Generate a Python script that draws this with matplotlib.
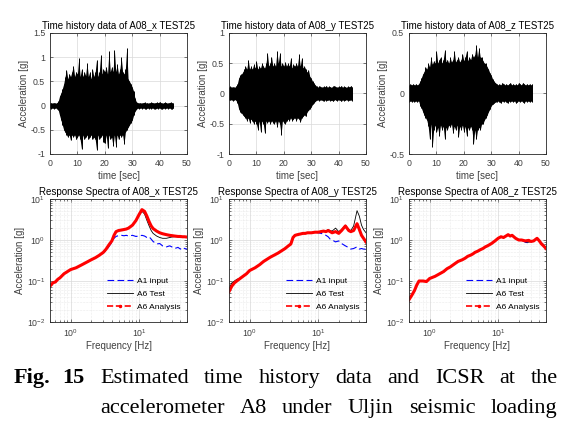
import matplotlib
matplotlib.use("Agg")
import matplotlib.pyplot as plt
import numpy as np
from matplotlib.lines import Line2D
from matplotlib.ticker import FormatStrFormatter

plt.rcParams["font.family"] = ["Liberation Sans", "DejaVu Sans"]
plt.rcParams["mathtext.fontset"] = "custom"
plt.rcParams["mathtext.rm"] = "Liberation Sans"

# ---- time histories: min / max of the trace in each 0.5 s bin, 0..45 s ----
TIME_STEP = 0.5
TIME_END = 45.0

X_UP = [.05, .06, .05, .06, .05, .06, .09, .2, .26, .35, .45, .6, .74, .55, .66, .6,
        .7, .82, .6, .7, .65, .98, .6, .75, .6, .7, .62, .88, .6, .7, .55, .75,
        .6, .7, .95, .6, .7, 1.05, .65, .75, .7, .8, .65, 1.12, .7, .8, .7, 1.15,
        .7, .85, .65, .75, 1.0, .7, .65, .75, 1.2, .55, .5, .45, .38, .3, .15, .08,
        .06, .05, .06, .05, .06, .07, .05, .06, .05, .06, .07, .06, .05, .06, .07, .06,
        .08, .06, .05, .06, .07, .06, .05, .06, .07, .06, .05]
X_LO = [-.05, -.06, -.05, -.06, -.05, -.06, -.09, -.2, -.3, -.4, -.5, -.55, -.6, -.65, -.6, -.72,
        -.6, -.65, -.6, -.7, -.65, -.6, -.7, -.9, -.6, -.7, -.65, -.6, -.7, -.65, -.6, -.7,
        -.65, -.7, -.92, -.6, -.7, -.65, -.6, -.75, -.78, -.6, -.88, -.6, -.7, -.65, -.84, -.6,
        -.85, -.6, -.7, -.6, -.65, -.6, -.8, -.55, -.5, -.45, -.4, -.35, -.3, -.2, -.12, -.08,
        -.05, -.06, -.05, -.06, -.05, -.06, -.07, -.05, -.06, -.05, -.06, -.05, -.06, -.07, -.05, -.06,
        -.05, -.06, -.07, -.05, -.06, -.05, -.06, -.05, -.06, -.07, -.05]

Y_UP = [.1, .12, .1, .11, .1, .12, .15, .25, .3, .32, .35, .4, .45, .4, .56, .4,
        .45, .4, .48, .42, .53, .4, .45, .42, .5, .45, .42, .5, .67, .45, .5, .61,
        .45, .5, .45, .7, .5, .67, .45, .5, .45, .52, .45, .5, .45, .59, .42, .48,
        .45, .5, .45, .65, .45, .59, .42, .45, .4, .35, .39, .28, .25, .2, .17, .14,
        .12, .1, .13, .11, .1, .12, .11, .13, .1, .12, .11, .1, .12, .13, .11, .1,
        .12, .11, .13, .1, .12, .11, .1, .12, .11, .13, .1]
Y_LO = [-.1, -.11, -.1, -.12, -.1, -.11, -.15, -.25, -.3, -.32, -.35, -.38, -.4, -.45, -.4, -.48,
        -.42, -.45, -.5, -.45, -.5, -.6, -.45, -.63, -.45, -.5, -.66, -.45, -.48, -.45, -.5, -.45,
        -.48, -.5, -.45, -.55, -.45, -.5, -.68, -.45, -.48, -.5, -.45, -.42, -.45, -.4, -.45, -.42,
        -.4, -.45, -.4, -.42, -.47, -.4, -.38, -.35, -.38, -.3, -.28, -.25, -.22, -.18, -.15, -.13,
        -.11, -.1, -.12, -.1, -.11, -.13, -.1, -.12, -.11, -.1, -.12, -.11, -.13, -.1, -.11, -.12,
        -.1, -.11, -.13, -.1, -.12, -.11, -.1, -.12, -.11, -.1, -.12]

Z_UP = [.07, .08, .07, .08, .07, .08, .07, .08, .1, .13, .16, .18, .22, .2, .25, .22,
        .3, .24, .27, .25, .35, .25, .28, .3, .25, .28, .36, .26, .28, .25, .3, .26,
        .28, .35, .26, .28, .3, .26, .28, .33, .27, .3, .35, .27, .3, .28, .33, .3,
        .32, .4, .3, .38, .3, .3, .27, .25, .25, .22, .2, .17, .15, .12, .1, .09,
        .08, .07, .08, .07, .09, .08, .07, .08, .07, .08, .09, .07, .08, .07, .08, .07,
        .09, .08, .07, .09, .08, .07, .08, .07, .08, .07, .08]
Z_LO = [-.07, -.06, -.07, -.06, -.07, -.06, -.07, -.06, -.1, -.12, -.15, -.18, -.2, -.22, -.27, -.38,
        -.25, -.44, -.3, -.26, -.32, -.28, -.35, -.26, -.3, -.27, -.38, -.28, -.3, -.26, -.28, -.25,
        -.33, -.27, -.3, -.26, -.36, -.27, -.3, -.26, -.32, -.27, -.35, -.28, -.3, -.27, -.3, -.42,
        -.3, -.38, -.3, -.28, -.3, -.25, -.25, -.22, -.2, -.18, -.15, -.13, -.1, -.09, -.08, -.07,
        -.07, -.06, -.07, -.08, -.06, -.07, -.06, -.07, -.08, -.06, -.07, -.06, -.07, -.06, -.08, -.07,
        -.06, -.07, -.06, -.07, -.08, -.06, -.07, -.06, -.07, -.06, -.07]

# ---- response spectra [g] ----
FREQ = [0.5, 0.55, 0.6, 0.65, 0.7, 0.8, 0.9, 1.0, 1.2, 1.4, 1.6, 1.8, 2.0, 2.3, 2.6, 3.0,
        3.3, 3.6, 4.0, 4.3, 4.6, 5.0, 5.5, 6.0, 6.5, 7.0, 8.0, 9.0, 10, 11, 12, 13,
        14, 15, 16, 18, 20, 22, 25, 28, 30, 33, 37, 40, 43, 46, 50]

X_INPUT = [0.075, 0.09, 0.095, 0.11, 0.12, 0.15, 0.17, 0.19, 0.21, 0.24, 0.27, 0.3, 0.33, 0.37, 0.42, 0.48,
           0.56, 0.68, 0.88, 1.1, 1.22, 1.28, 1.3, 1.27, 1.3, 1.25, 1.3, 1.22, 1.25, 1.3, 1.25, 1.15,
           1.2, 1.05, 0.92, 0.8, 0.82, 0.72, 0.68, 0.72, 0.68, 0.62, 0.66, 0.6, 0.66, 0.62, 0.6]
X_TEST = [0.075, 0.09, 0.095, 0.11, 0.12, 0.15, 0.17, 0.19, 0.21, 0.24, 0.27, 0.3, 0.33, 0.37, 0.42, 0.5,
          0.6, 0.75, 0.95, 1.3, 1.6, 1.7, 1.75, 1.8, 1.85, 1.95, 2.3, 2.9, 4.0, 5.0, 4.3, 3.0,
          2.2, 1.7, 1.45, 1.25, 1.15, 1.1, 1.1, 1.15, 1.18, 1.2, 1.2, 1.22, 1.22, 1.2, 1.2]
X_ANALYSIS = [0.075, 0.09, 0.095, 0.11, 0.12, 0.15, 0.17, 0.19, 0.21, 0.24, 0.27, 0.3, 0.33, 0.37, 0.42, 0.5,
              0.6, 0.75, 0.95, 1.3, 1.6, 1.7, 1.75, 1.8, 1.85, 1.95, 2.3, 3.0, 4.2, 5.5, 5.0, 3.8,
              2.8, 2.2, 1.9, 1.65, 1.5, 1.42, 1.35, 1.3, 1.28, 1.25, 1.22, 1.22, 1.2, 1.2, 1.18]

Y_INPUT = [0.055, 0.075, 0.09, 0.1, 0.11, 0.13, 0.15, 0.18, 0.21, 0.25, 0.3, 0.34, 0.38, 0.43, 0.48, 0.56,
           0.62, 0.7, 0.8, 1.15, 1.3, 1.35, 1.4, 1.45, 1.45, 1.5, 1.5, 1.55, 1.5, 1.45, 1.4, 1.3,
           1.2, 1.05, 1.0, 0.9, 0.95, 0.82, 0.72, 0.65, 0.6, 0.62, 0.68, 0.6, 0.62, 0.6, 0.6]
Y_TEST = [0.065, 0.09, 0.1, 0.11, 0.115, 0.13, 0.15, 0.18, 0.21, 0.25, 0.3, 0.34, 0.38, 0.43, 0.48, 0.56,
          0.62, 0.7, 0.8, 1.15, 1.3, 1.35, 1.4, 1.45, 1.45, 1.5, 1.5, 1.55, 1.55, 1.65, 1.7, 1.65,
          1.8, 1.7, 1.65, 1.95, 1.6, 1.8, 2.3, 1.8, 1.7, 2.2, 5.2, 3.8, 2.3, 1.8, 1.5]
Y_ANALYSIS = [0.055, 0.075, 0.09, 0.1, 0.11, 0.13, 0.15, 0.18, 0.21, 0.25, 0.3, 0.34, 0.38, 0.43, 0.48, 0.56,
              0.62, 0.7, 0.8, 1.15, 1.3, 1.35, 1.4, 1.45, 1.45, 1.5, 1.5, 1.55, 1.55, 1.6, 1.65, 1.6,
              1.7, 1.6, 1.5, 1.6, 1.45, 1.7, 2.2, 1.7, 1.6, 1.7, 2.5, 1.8, 1.3, 1.1, 0.9]

Z_INPUT = [0.035, 0.045, 0.058, 0.08, 0.1, 0.1, 0.097, 0.115, 0.13, 0.15, 0.17, 0.2, 0.22, 0.26, 0.3, 0.33,
           0.36, 0.4, 0.43, 0.46, 0.5, 0.53, 0.58, 0.62, 0.68, 0.72, 0.82, 0.95, 1.1, 1.2, 1.15, 1.25,
           1.35, 1.25, 1.3, 1.1, 1.0, 1.0, 0.88, 0.85, 0.88, 0.95, 1.1, 0.95, 0.8, 0.72, 0.62]
Z_TEST = [0.035, 0.045, 0.058, 0.08, 0.1, 0.1, 0.097, 0.115, 0.13, 0.15, 0.17, 0.2, 0.22, 0.26, 0.3, 0.33,
          0.36, 0.4, 0.43, 0.46, 0.5, 0.53, 0.58, 0.62, 0.68, 0.72, 0.82, 0.95, 1.1, 1.2, 1.15, 1.25,
          1.35, 1.25, 1.3, 1.1, 1.0, 1.0, 0.9, 0.88, 0.92, 0.95, 1.1, 0.95, 0.85, 0.78, 0.65]
Z_ANALYSIS = [0.035, 0.045, 0.058, 0.08, 0.1, 0.1, 0.097, 0.115, 0.13, 0.15, 0.17, 0.2, 0.22, 0.26, 0.3, 0.33,
              0.36, 0.4, 0.43, 0.46, 0.5, 0.53, 0.58, 0.62, 0.68, 0.72, 0.82, 0.95, 1.1, 1.2, 1.15, 1.25,
              1.35, 1.25, 1.3, 1.1, 1.0, 1.0, 0.95, 0.98, 0.92, 0.95, 1.1, 0.95, 0.8, 0.72, 0.62]

AXES = ["x", "y", "z"]
HISTORY = {"x": (X_UP, X_LO), "y": (Y_UP, Y_LO), "z": (Z_UP, Z_LO)}
HIST_YLIM = {"x": (-1, 1.5), "y": (-1, 1), "z": (-0.5, 0.5)}
HIST_YTICKS = {"x": [-1, -0.5, 0, 0.5, 1, 1.5], "y": [-1, -0.5, 0, 0.5, 1], "z": [-0.5, 0, 0.5]}
SPECTRA = {
    "x": (X_INPUT, X_TEST, X_ANALYSIS),
    "y": (Y_INPUT, Y_TEST, Y_ANALYSIS),
    "z": (Z_INPUT, Z_TEST, Z_ANALYSIS),
}

W_PX, H_PX = 574, 440
LEFTS = [50, 229, 409]
AX_W = 137
GRAY = "0.25"


def px_rect(left, top, width, height):
    return [left / W_PX, 1 - (top + height) / H_PX, width / W_PX, height / H_PX]


def style_axes(ax):
    ax.tick_params(direction="in", which="both", top=True, right=True,
                   labelsize=6.3, colors=GRAY, length=2.5, width=0.5)
    ax.tick_params(which="minor", length=1.5)
    for s in ax.spines.values():
        s.set_color("0.15")
        s.set_linewidth(0.6)


fig = plt.figure(figsize=(W_PX / 100, H_PX / 100), dpi=100)
t = np.arange(0, TIME_END + TIME_STEP / 2, TIME_STEP)

for i, key in enumerate(AXES):
    # time history: solid body plus individual spikes
    ax = fig.add_axes(px_rect(LEFTS[i], 33, AX_W, 121))
    up, lo = HISTORY[key]
    ax.fill_between(t, lo, up, color="k", linewidth=0)
    ax.vlines(t, lo, up, color="k", linewidth=0.7)
    ax.set_xlim(0, 50)
    ax.set_ylim(*HIST_YLIM[key])
    ax.set_xticks([0, 10, 20, 30, 40, 50])
    ax.set_yticks(HIST_YTICKS[key])
    ax.yaxis.set_major_formatter(FormatStrFormatter("%g"))
    ax.grid(True, color="0.85", linewidth=0.5)
    ax.set_axisbelow(True)
    style_axes(ax)
    ax.set_title(f"Time history data of A08_{key} TEST25", fontsize=7, pad=3)
    ax.set_xlabel("time [sec]", fontsize=7, color=GRAY, labelpad=2)
    ax.set_ylabel("Acceleration [g]", fontsize=7, color=GRAY, labelpad=1)

    # response spectra
    ax = fig.add_axes(px_rect(LEFTS[i], 199, AX_W, 123))
    inp, test, ana = SPECTRA[key]
    ax.loglog(FREQ, inp, color="blue", linestyle=(0, (6, 3)), linewidth=0.8)
    ax.loglog(FREQ, test, color="k", linewidth=0.6)
    ax.loglog(FREQ, ana, color="red", linewidth=2.2)
    ax.set_xlim(0.5, 50)
    ax.set_ylim(1e-2, 1e1)
    ax.set_yticks([1e-2, 1e-1, 1e0, 1e1])
    ax.grid(True, which="major", color="0.85", linewidth=0.5)
    ax.grid(True, which="minor", color="0.85", linewidth=0.4, linestyle=":")
    ax.set_axisbelow(True)
    style_axes(ax)
    ax.set_title(f"Response Spectra of A08_{key} TEST25", fontsize=7, pad=3)
    ax.set_xlabel("Frequency [Hz]", fontsize=7, color=GRAY, labelpad=2)
    ax.set_ylabel("Acceleration [g]", fontsize=7, color=GRAY, labelpad=1)
    handles = [
        Line2D([], [], color="blue", linestyle=(0, (6, 3)), linewidth=0.8),
        Line2D([], [], color="k", linewidth=0.6),
        Line2D([], [], color="red", linestyle="--", linewidth=1.2, marker=".", markersize=3),
    ]
    ax.legend(handles, ["A1 input", "A6 Test", "A6 Analysis"], loc="lower left",
              bbox_to_anchor=(0.37, 0.045), frameon=False, fontsize=6,
              handlelength=3.2, handletextpad=0.4, labelspacing=0.6, borderpad=0.2)

# caption, justified between fixed pixel columns
fig.canvas.draw()
renderer = fig.canvas.get_renderer()
cap_kw = dict(family=["Liberation Serif", "DejaVu Serif"], fontsize=16, va="baseline")
fig.text(14 / W_PX, 1 - 383 / H_PX, "Fig.", fontweight="bold", **cap_kw)
fig.text(62 / W_PX, 1 - 383 / H_PX, "15", fontweight="bold", **cap_kw)


def justify(line, x0, x1, base):
    texts = [fig.text(0, 1 - base / H_PX, w, **cap_kw) for w in line.split()]
    widths = [tx.get_window_extent(renderer).width for tx in texts]
    gap = (x1 - x0 - sum(widths)) / (len(texts) - 1)
    x = x0
    for tx, w in zip(texts, widths):
        tx.set_x(x / W_PX)
        x += w + gap


justify("Estimated time history data and ICSR at the", 100, 558, 383)
justify("accelerometer A8 under Uljin seismic loading", 100, 557, 413)

fig.savefig("out.png", dpi=100)
